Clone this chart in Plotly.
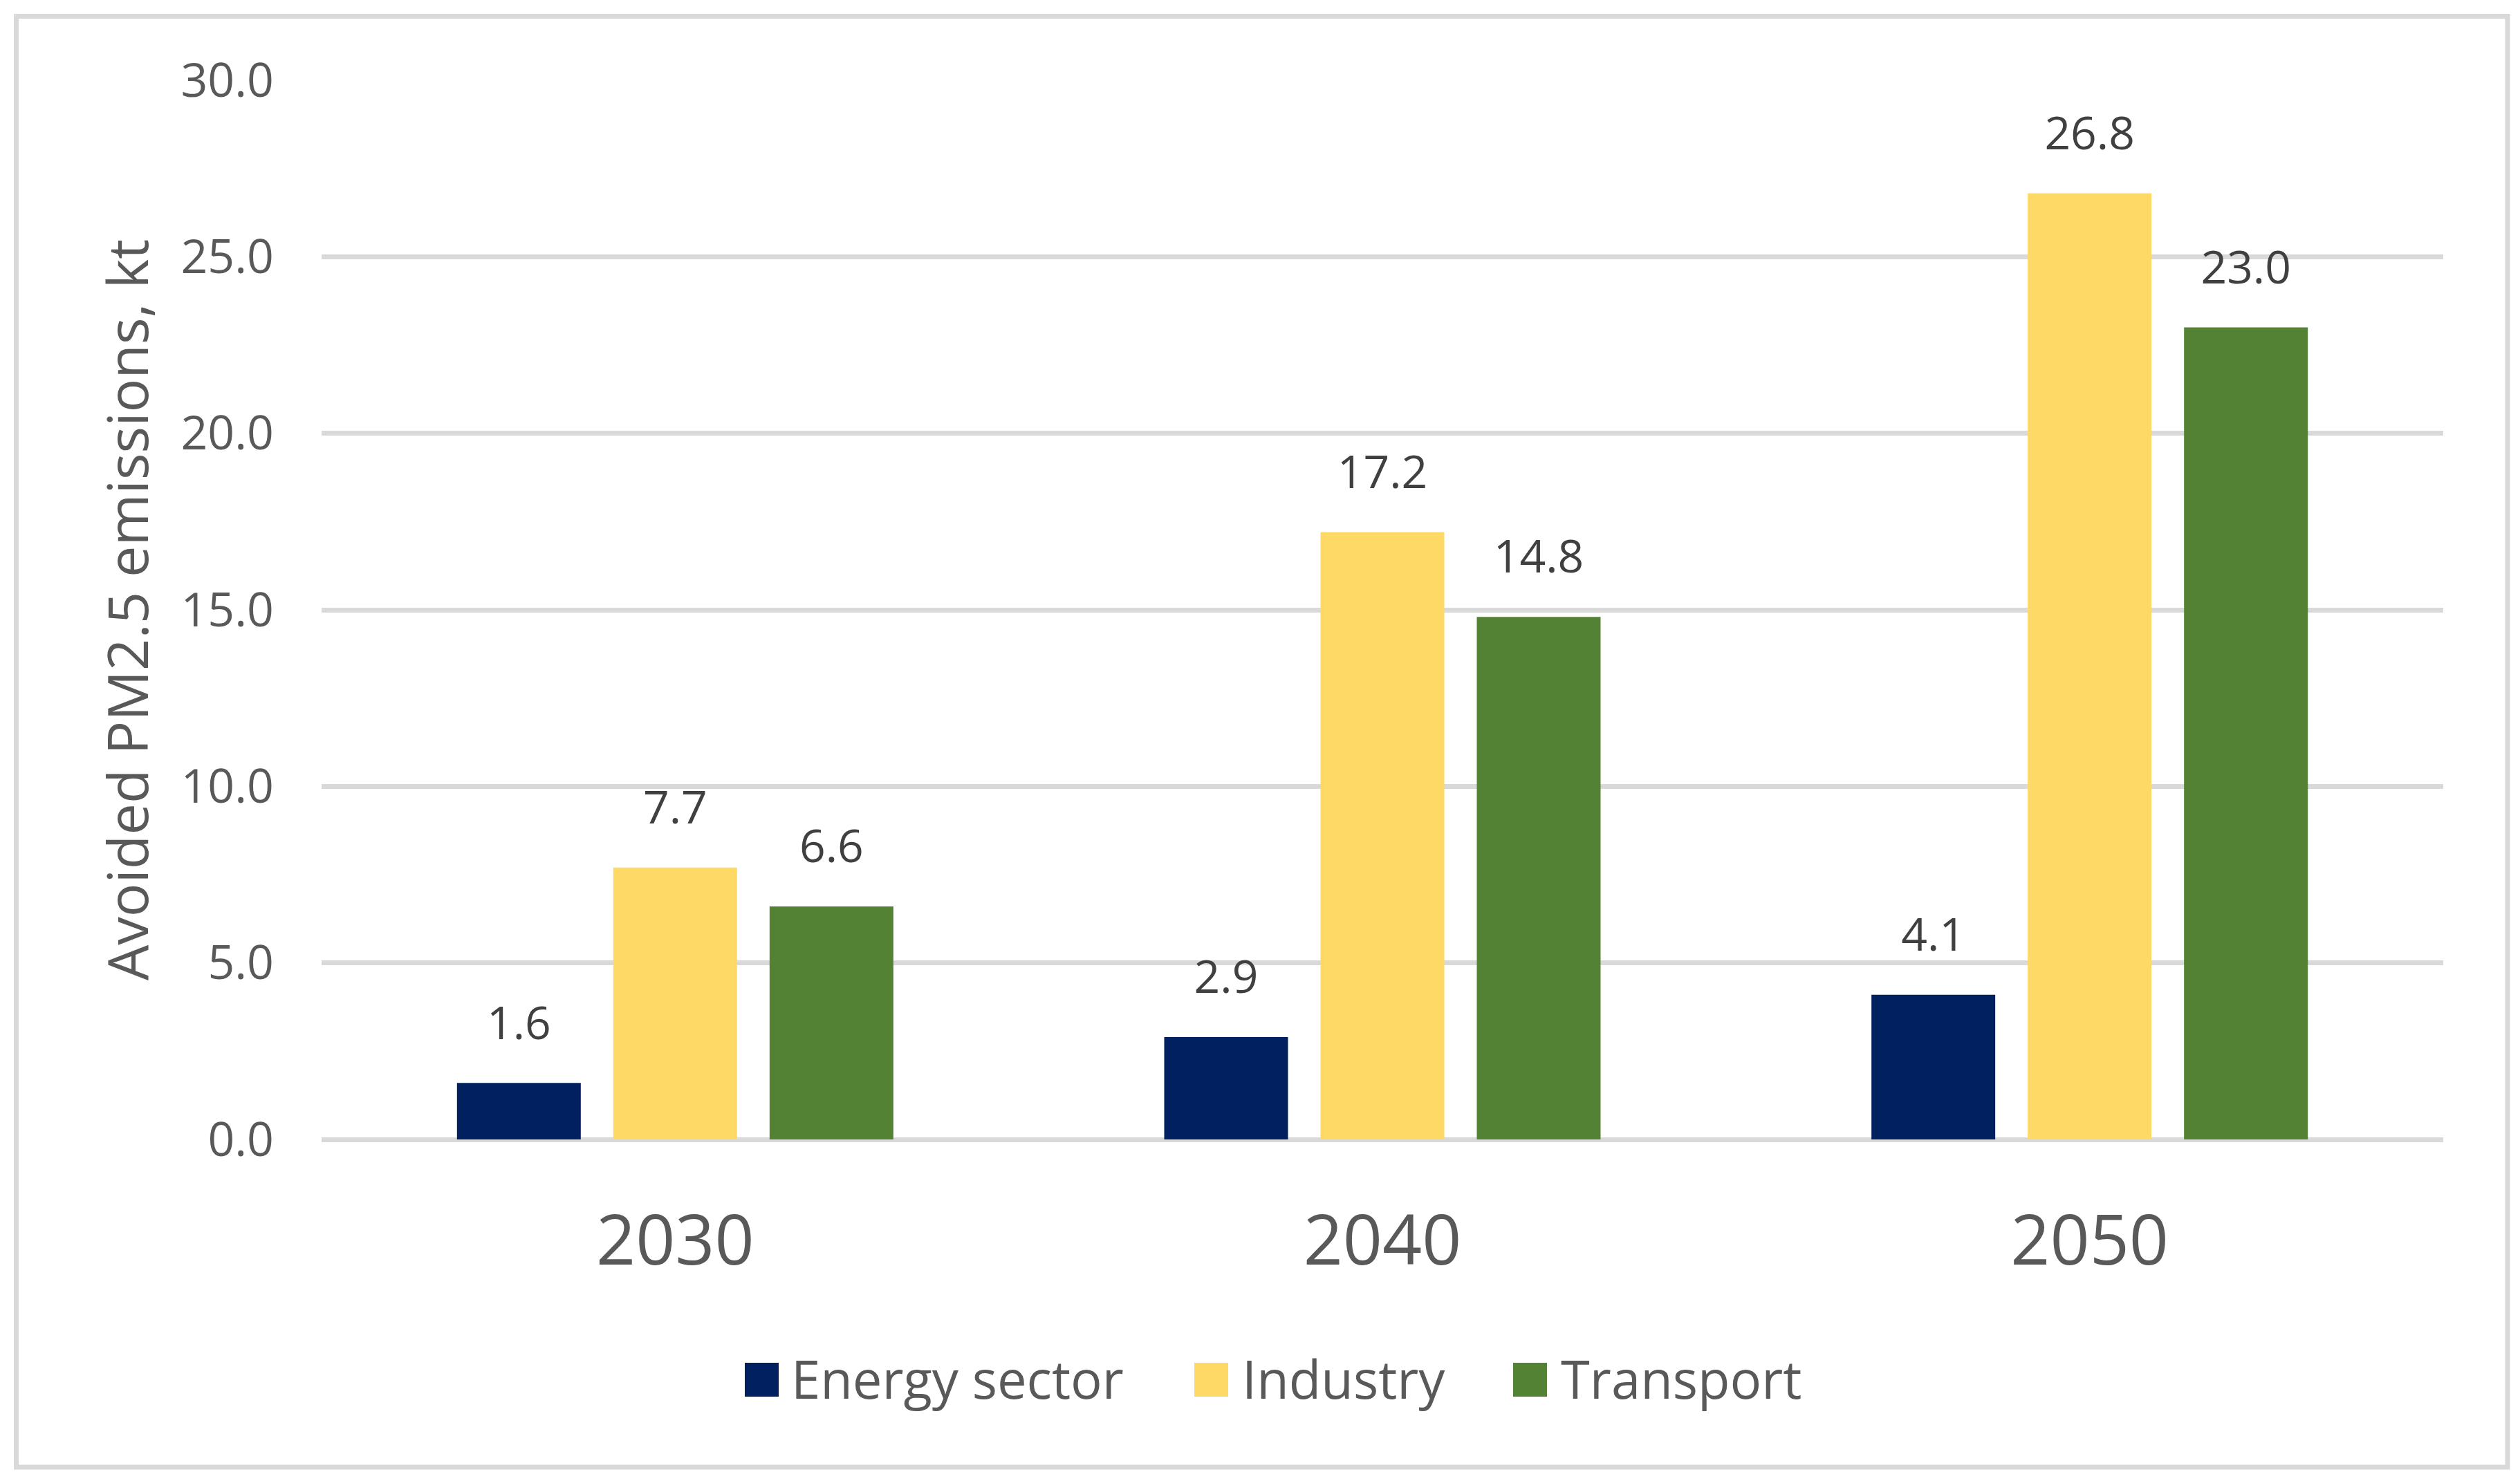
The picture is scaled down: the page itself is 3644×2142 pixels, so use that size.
import plotly.graph_objects as go

# ---- data ----
years = ["2030", "2040", "2050"]
series_names = ["Energy sector", "Industry", "Transport"]
energy = [1.6, 2.9, 4.1]
industry = [7.7, 17.2, 26.8]
transport = [6.6, 14.8, 23.0]
y_ticks = [0, 5, 10, 15, 20, 25, 30]
y_title = "Avoided PM2.5 emissions, kt"

# ---- style ----
colors = ["#002060", "#FFD966", "#548235"]
FONT = "Open Sans"
AXIS_TXT = "#595959"
LABEL_TXT = "#404040"
GRID = "#D9D9D9"

W, H = 3644, 2142
L, R, T, B = 465, 111, 116, 494
PW = W - L - R
PH = H - T - B


def px_x(X):
    return (X - L) / PW


def px_y(Y):
    return (H - B - Y) / PH


series_vals = [energy, industry, transport]

fig = go.Figure()
for i, (name, vals) in enumerate(zip(series_names, series_vals)):
    fig.add_trace(go.Bar(
        x=years, y=vals, name=name,
        marker=dict(color=colors[i], line=dict(width=0)),
        offsetgroup=str(i), showlegend=False,
    ))
for i, (name, vals) in enumerate(zip(series_names, series_vals)):
    fig.add_trace(go.Scatter(
        x=years, y=vals, mode="markers+text",
        text=[f"{v:.1f}" for v in vals], textposition="top center",
        marker=dict(size=74, opacity=0),
        textfont=dict(size=66, color=LABEL_TXT, family=FONT),
        offsetgroup=str(i), showlegend=False, cliponaxis=False,
        hoverinfo="skip",
    ))

shapes = [dict(type="rect", xref="paper", yref="paper",
               x0=px_x(23.5), x1=px_x(3626), y0=px_y(2122), y1=px_y(23.5),
               line=dict(color=GRID, width=7), fillcolor="rgba(0,0,0,0)",
               layer="below")]
annotations = [dict(text=y_title, xref="paper", yref="paper",
                    x=px_x(182), y=0.5, xanchor="center", yanchor="middle",
                    textangle=-90, showarrow=False,
                    font=dict(size=81, color=AXIS_TXT, family=FONT))]

# custom legend (large square swatches)
leg_sq_x = [1077, 1727, 2188]
leg_txt_x = [1142, 1794, 2255]
SQ = 49
for i, name in enumerate(series_names):
    shapes.append(dict(type="rect", xref="paper", yref="paper",
                       x0=px_x(leg_sq_x[i]), x1=px_x(leg_sq_x[i] + SQ),
                       y0=px_y(2020), y1=px_y(1971),
                       line=dict(width=0), fillcolor=colors[i]))
    annotations.append(dict(text=name, xref="paper", yref="paper",
                            x=px_x(leg_txt_x[i]), y=px_y(1993),
                            xanchor="left", yanchor="middle", showarrow=False,
                            font=dict(size=76, color=AXIS_TXT, family=FONT)))

fig.update_layout(
    width=W, height=H,
    margin=dict(l=L, r=R, t=T, b=B, autoexpand=False),
    paper_bgcolor="white", plot_bgcolor="white",
    barmode="group", bargap=0.337, bargroupgap=0.208,
    scattermode="group", scattergap=0.337,
    showlegend=False,
    shapes=shapes, annotations=annotations,
    font=dict(family=FONT, color=AXIS_TXT),
)
fig.update_xaxes(
    type="category", categoryorder="array", categoryarray=years,
    showgrid=False, showline=False, zeroline=False, ticks="",
    tickfont=dict(size=100, color=AXIS_TXT, family=FONT),
    ticklabelstandoff=80,
)
fig.update_yaxes(
    range=[0, 30], tickvals=y_ticks, tickformat=".1f",
    showgrid=True, gridcolor=GRID, gridwidth=7,
    zeroline=True, zerolinecolor=GRID, zerolinewidth=7,
    showline=False, ticks="",
    tickfont=dict(size=68, color=AXIS_TXT, family=FONT),
    ticklabelstandoff=68,
)

fig.write_html("out.html", config={"displayModeBar": False},
               post_script="document.body.style.margin='0';")
